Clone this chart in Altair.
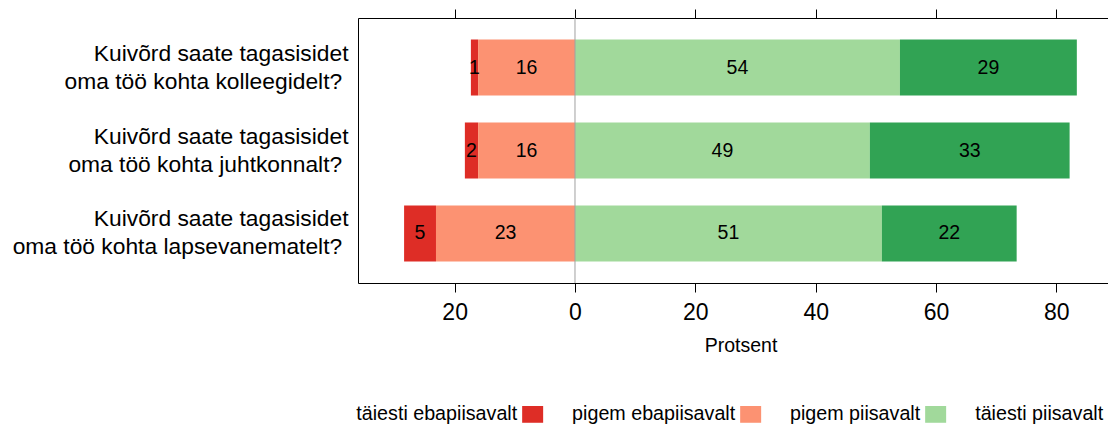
import altair as alt
import pandas as pd

questions = [
    "Kuivõrd saate tagasisidet|oma töö kohta kolleegidelt?\u00a0\u200b",
    "Kuivõrd saate tagasisidet|oma töö kohta juhtkonnalt?\u00a0\u200b",
    "Kuivõrd saate tagasisidet|oma töö kohta lapsevanematelt?\u00a0\u200b",
]
categories = ["täiesti ebapiisavalt", "pigem ebapiisavalt", "pigem piisavalt", "täiesti piisavalt"]
colors = ["#de2d26", "#fc9272", "#a1d99b", "#31a354"]
taiesti_eba = [1.2, 2.2, 5.3]
pigem_eba = [16.1, 16.1, 23.1]
pigem_pii = [54.0, 49.0, 51.0]
taiesti_pii = [29.4, 33.2, 22.4]
ticks = [-20, 0, 20, 40, 60, 80]

rows = []
for i, q in enumerate(questions):
    a, b, c, d = taiesti_eba[i], pigem_eba[i], pigem_pii[i], taiesti_pii[i]
    segs = [(-(a + b), -b, a), (-b, 0, b), (0, c, c), (c, c + d, d)]
    for cat, (x0, x1, v) in zip(categories, segs):
        rows.append(dict(question=q, category=cat, start=x0, end=x1, value=v, mid=(x0 + x1) / 2))
df = pd.DataFrame(rows)
zero_df = pd.DataFrame({"zero": [0]})

xscale = alt.Scale(domain=[-36.06, 88.58], nice=False, zero=False)
yenc = alt.Y(
    "question:N",
    sort=questions,
    scale=alt.Scale(paddingInner=0.325, paddingOuter=0.259),
    axis=alt.Axis(
        title=None, ticks=False, tickSize=0, domainColor="black", domainWidth=1,
        labelExpr="split(datum.label, '|')", labelFontSize=22.8, labelLineHeight=28,
        labelPadding=10, labelLimit=0, labelColor="black", labelOffset=-14,
    ),
)

bars = alt.Chart(df).mark_bar().encode(
    x=alt.X(
        "start:Q", scale=xscale,
        axis=alt.Axis(
            orient="bottom", values=ticks, labelExpr="abs(datum.value)", title="Protsent",
            grid=False, tickSize=9, tickColor="black", domainColor="black", domainWidth=1,
            labelColor="black", labelFontSize=23, labelPadding=9, labelFlush=False,
            titleFontSize=19.5, titleFontWeight="normal", titleColor="black",
            titleX=382.5, titleY=68.5, titleBaseline="alphabetic", titleAlign="center",
        ),
    ),
    x2="end:Q",
    y=yenc,
    color=alt.Color(
        "category:N",
        scale=alt.Scale(domain=categories, range=colors),
        legend=alt.Legend(
            title=None, orient="none", legendX=164.8, legendY=386.3, direction="horizontal",
            columns=4, columnPadding=28, labelAlign="right", labelOffset={"expr": "-25.3"},
            labelFontSize=19.7, labelColor="black", labelLimit=0,
            symbolType="M-1.25,-1H1.25V1H-1.25Z", symbolSize=282, symbolStrokeWidth=0,
            symbolOpacity=1, padding=0,
        ),
    ),
)

zero = alt.Chart(zero_df).mark_rule(color="#a0a0a0", strokeWidth=1).encode(
    x=alt.X(
        "zero:Q", scale=xscale,
        axis=alt.Axis(
            orient="top", values=ticks, labels=False, title=None, grid=False,
            tickSize=9, tickColor="black", domainColor="black", domainWidth=1,
        ),
    )
)

labels = alt.Chart(df).mark_text(fontSize=19.5, color="black").encode(
    x=alt.X("mid:Q", scale=xscale, axis=None),
    y=yenc,
    text=alt.Text("value:Q", format=".0f"),
)

chart = (
    alt.layer(bars, zero, labels)
    .resolve_axis(x="independent")
    .properties(
        width=750, height=265,
        padding={"left": 350, "top": 10, "right": 0, "bottom": 141},
        autosize=alt.AutoSizeParams(type="none"),
    )
    .configure(font="Liberation Sans")
    .configure_view(stroke=None)
)

chart.save("out.html", embed_options={"renderer": "svg", "actions": False})
